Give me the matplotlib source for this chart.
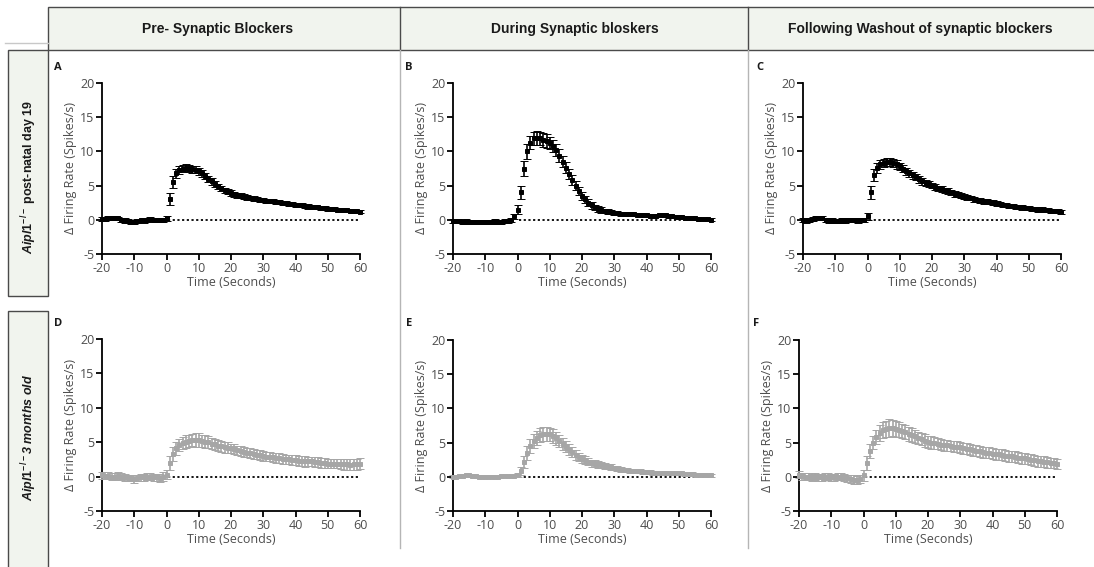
import numpy as np
import matplotlib
matplotlib.use("Agg")
import matplotlib.pyplot as plt
from matplotlib.patches import Rectangle
from matplotlib.lines import Line2D

plt.rcParams['font.family'] = ['Open Sans', 'DejaVu Sans']
plt.rcParams['axes.unicode_minus'] = False
plt.rcParams['mathtext.fontset'] = 'custom'
plt.rcParams['mathtext.it'] = 'Liberation Sans:italic:bold'
plt.rcParams['mathtext.rm'] = 'Liberation Sans:bold'

W, H = 1094, 567

# time axis, one sample per second
time_s = list(range(-20, 61))

col_titles = ["Pre- Synaptic Blockers", "During Synaptic bloskers",
              "Following Washout of synaptic blockers"]
panel_letters = ["A", "B", "C", "D", "E", "F"]

# row 1 : Aipl1-/- post-natal day 19 (black)
rate_A = [0.1, 0.1, 0.2, 0.3, 0.3, 0.2, 0.0, -0.1, -0.2, -0.3, -0.3, -0.2, -0.1, -0.1, 0.0, 0.1, 0.0, -0.1, -0.1, 0.0,
          0.2, 3.0, 5.5, 6.8, 7.3, 7.5, 7.6, 7.5, 7.4, 7.3, 7.1, 6.8, 6.4, 6.0, 5.6, 5.2, 4.9, 4.6, 4.3, 4.1,
          3.9, 3.75, 3.6, 3.5, 3.4, 3.3, 3.2, 3.1, 3.0, 2.95, 2.9, 2.8, 2.75, 2.7, 2.6, 2.55, 2.5, 2.4, 2.35, 2.3,
          2.2, 2.15, 2.1, 2.0, 1.95, 1.9, 1.85, 1.8, 1.75, 1.7, 1.6, 1.6, 1.55, 1.5, 1.45, 1.4, 1.4, 1.35, 1.3, 1.25,
          1.2]
err_A = [0.25, 0.25, 0.3, 0.3, 0.25, 0.25, 0.25, 0.3, 0.25, 0.25, 0.3, 0.25, 0.25, 0.3, 0.25, 0.25, 0.3, 0.25, 0.25, 0.3,
         0.4, 0.9, 0.9, 0.7, 0.6, 0.5, 0.5, 0.5, 0.5, 0.5, 0.5, 0.5, 0.45, 0.45, 0.45, 0.4, 0.4, 0.4, 0.4, 0.4,
         0.4, 0.35, 0.35, 0.35, 0.35, 0.35, 0.35, 0.35, 0.3, 0.3, 0.3, 0.3, 0.3, 0.3, 0.3, 0.3, 0.3, 0.3, 0.3, 0.3,
         0.3, 0.3, 0.3, 0.3, 0.3, 0.3, 0.3, 0.25, 0.25, 0.25, 0.25, 0.25, 0.25, 0.25, 0.25, 0.25, 0.25, 0.25, 0.25, 0.25,
         0.25]

rate_B = [-0.2, -0.2, -0.2, -0.3, -0.2, -0.3, -0.3, -0.3, -0.3, -0.3, -0.3, -0.3, -0.3, -0.2, -0.3, -0.3, -0.2, -0.2, 0.0, 0.5,
          1.5, 4.0, 7.5, 10.0, 11.3, 11.9, 12.0, 11.9, 11.7, 11.5, 11.2, 10.8, 10.2, 9.4, 8.5, 7.6, 6.7, 5.8, 5.0, 4.2,
          3.5, 3.0, 2.5, 2.1, 1.8, 1.6, 1.4, 1.3, 1.2, 1.1, 1.0, 0.95, 0.9, 0.85, 0.8, 0.8, 0.8, 0.75, 0.7, 0.7,
          0.65, 0.6, 0.6, 0.6, 0.65, 0.7, 0.65, 0.55, 0.5, 0.45, 0.4, 0.35, 0.3, 0.3, 0.25, 0.2, 0.15, 0.1, 0.1, 0.05,
          0.0]
err_B = [0.25, 0.25, 0.25, 0.25, 0.25, 0.25, 0.25, 0.25, 0.25, 0.25, 0.25, 0.25, 0.25, 0.25, 0.25, 0.25, 0.25, 0.25, 0.3, 0.4,
         0.6, 1.0, 1.1, 1.1, 1.0, 1.0, 1.0, 1.0, 1.0, 1.0, 0.9, 0.9, 0.9, 0.9, 0.8, 0.8, 0.8, 0.7, 0.7, 0.6,
         0.6, 0.5, 0.5, 0.5, 0.4, 0.4, 0.4, 0.35, 0.35, 0.3, 0.3, 0.3, 0.3, 0.3, 0.3, 0.3, 0.25, 0.25, 0.25, 0.25,
         0.25, 0.25, 0.25, 0.25, 0.25, 0.25, 0.25, 0.25, 0.25, 0.25, 0.2, 0.2, 0.2, 0.2, 0.2, 0.2, 0.2, 0.2, 0.2, 0.2,
         0.2]

rate_C = [0.0, -0.1, 0.0, 0.1, 0.2, 0.3, 0.2, 0.0, -0.1, -0.1, -0.2, -0.2, -0.1, -0.1, 0.0, 0.0, 0.0, -0.1, 0.0, 0.0,
          0.5, 4.0, 6.5, 7.6, 8.1, 8.3, 8.4, 8.4, 8.3, 8.1, 7.8, 7.5, 7.1, 6.8, 6.5, 6.2, 5.9, 5.6, 5.4, 5.2,
          5.0, 4.8, 4.6, 4.5, 4.3, 4.2, 4.0, 3.8, 3.7, 3.5, 3.4, 3.3, 3.2, 3.0, 2.9, 2.8, 2.7, 2.7, 2.6, 2.5,
          2.4, 2.3, 2.2, 2.1, 2.0, 2.0, 1.9, 1.9, 1.8, 1.7, 1.7, 1.6, 1.6, 1.5, 1.5, 1.4, 1.4, 1.3, 1.3, 1.3,
          1.2]
err_C = [0.3, 0.3, 0.3, 0.3, 0.3, 0.3, 0.3, 0.3, 0.3, 0.3, 0.3, 0.3, 0.3, 0.3, 0.3, 0.3, 0.3, 0.3, 0.3, 0.3,
         0.5, 1.0, 0.9, 0.7, 0.6, 0.6, 0.6, 0.6, 0.6, 0.6, 0.55, 0.55, 0.5, 0.5, 0.5, 0.45, 0.45, 0.45, 0.45, 0.4,
         0.4, 0.4, 0.4, 0.4, 0.4, 0.4, 0.4, 0.4, 0.35, 0.35, 0.35, 0.35, 0.35, 0.35, 0.35, 0.35, 0.35, 0.35, 0.35, 0.35,
         0.35, 0.3, 0.3, 0.3, 0.3, 0.3, 0.3, 0.3, 0.3, 0.3, 0.3, 0.3, 0.3, 0.3, 0.3, 0.3, 0.3, 0.3, 0.3, 0.3,
         0.3]

# row 2 : Aipl1-/- 3 months old (grey)
rate_D = [0.2, 0.1, 0.1, 0.0, 0.0, 0.1, 0.0, -0.1, -0.2, -0.2, -0.3, -0.2, -0.1, -0.1, 0.0, 0.0, -0.1, -0.1, -0.2, 0.0,
          0.3, 2.0, 3.3, 4.1, 4.6, 4.9, 5.1, 5.2, 5.3, 5.3, 5.3, 5.2, 5.1, 5.0, 4.8, 4.7, 4.5, 4.4, 4.3, 4.2,
          4.1, 4.0, 3.8, 3.7, 3.6, 3.5, 3.4, 3.3, 3.2, 3.1, 3.0, 2.9, 2.9, 2.8, 2.7, 2.7, 2.6, 2.5, 2.5, 2.4,
          2.4, 2.3, 2.3, 2.2, 2.2, 2.2, 2.1, 2.1, 2.0, 2.0, 1.9, 1.9, 1.9, 1.9, 1.8, 1.8, 1.8, 1.7, 1.8, 1.8,
          1.9]
err_D = [0.5, 0.5, 0.5, 0.5, 0.5, 0.5, 0.5, 0.5, 0.5, 0.5, 0.6, 0.5, 0.5, 0.5, 0.5, 0.5, 0.5, 0.5, 0.6, 0.6,
         0.7, 1.0, 1.0, 0.9, 0.9, 0.9, 0.9, 0.9, 0.9, 1.0, 1.0, 0.9, 0.9, 0.9, 0.8, 0.8, 0.8, 0.8, 0.8, 0.8,
         0.7, 0.7, 0.7, 0.7, 0.7, 0.7, 0.7, 0.7, 0.7, 0.7, 0.7, 0.7, 0.7, 0.7, 0.7, 0.7, 0.7, 0.7, 0.7, 0.7,
         0.7, 0.7, 0.7, 0.8, 0.7, 0.7, 0.7, 0.7, 0.7, 0.7, 0.7, 0.7, 0.7, 0.7, 0.7, 0.8, 0.8, 0.8, 0.8, 0.8,
         0.8]

rate_E = [0.0, 0.0, 0.1, 0.1, 0.2, 0.2, 0.1, 0.1, 0.0, 0.0, 0.0, 0.0, 0.0, 0.0, 0.0, 0.1, 0.1, 0.1, 0.1, 0.1,
          0.2, 0.8, 2.2, 3.5, 4.5, 5.2, 5.7, 6.1, 6.3, 6.3, 6.2, 6.0, 5.6, 5.2, 4.8, 4.4, 4.0, 3.6, 3.2, 2.9,
          2.6, 2.4, 2.2, 2.0, 1.9, 1.8, 1.7, 1.6, 1.5, 1.4, 1.3, 1.2, 1.1, 1.0, 1.0, 0.9, 0.9, 0.8, 0.8, 0.7,
          0.7, 0.7, 0.6, 0.6, 0.6, 0.6, 0.5, 0.5, 0.5, 0.5, 0.5, 0.5, 0.4, 0.4, 0.4, 0.3, 0.3, 0.3, 0.2, 0.2,
          0.2]
err_E = [0.2, 0.2, 0.2, 0.2, 0.2, 0.2, 0.2, 0.2, 0.2, 0.2, 0.2, 0.2, 0.2, 0.2, 0.2, 0.2, 0.2, 0.2, 0.2, 0.2,
         0.3, 0.6, 0.9, 1.0, 1.0, 1.0, 1.0, 1.0, 1.0, 1.0, 1.0, 1.0, 0.9, 0.9, 0.9, 0.8, 0.8, 0.7, 0.7, 0.6,
         0.6, 0.6, 0.5, 0.5, 0.5, 0.5, 0.4, 0.4, 0.4, 0.4, 0.35, 0.35, 0.35, 0.3, 0.3, 0.3, 0.3, 0.3, 0.3, 0.3,
         0.3, 0.3, 0.3, 0.25, 0.25, 0.25, 0.25, 0.25, 0.25, 0.25, 0.25, 0.25, 0.25, 0.25, 0.25, 0.25, 0.25, 0.25, 0.25, 0.25,
         0.25]

rate_F = [0.3, 0.1, 0.0, 0.0, -0.1, 0.0, -0.1, -0.1, 0.0, 0.0, -0.1, -0.1, 0.0, 0.0, -0.1, -0.2, -0.3, -0.4, -0.5, -0.3,
          0.2, 2.0, 3.8, 5.0, 5.8, 6.4, 6.8, 7.0, 7.1, 7.1, 7.0, 6.9, 6.7, 6.5, 6.3, 6.1, 5.9, 5.7, 5.5, 5.3,
          5.1, 5.0, 4.9, 4.8, 4.7, 4.6, 4.6, 4.5, 4.4, 4.4, 4.3, 4.2, 4.1, 4.0, 3.9, 3.8, 3.7, 3.6, 3.5, 3.5,
          3.4, 3.3, 3.3, 3.2, 3.1, 3.0, 3.0, 2.9, 2.8, 2.7, 2.7, 2.6, 2.5, 2.4, 2.3, 2.3, 2.2, 2.1, 2.0, 2.0,
          1.9]
err_F = [0.5, 0.5, 0.5, 0.5, 0.5, 0.5, 0.5, 0.5, 0.5, 0.5, 0.5, 0.5, 0.5, 0.5, 0.5, 0.5, 0.6, 0.6, 0.6, 0.6,
         0.8, 1.0, 1.0, 1.0, 1.0, 1.1, 1.2, 1.2, 1.3, 1.2, 1.2, 1.1, 1.0, 1.0, 1.0, 1.0, 0.9, 0.9, 0.9, 0.9,
         0.9, 0.9, 0.9, 0.8, 0.8, 0.8, 0.8, 0.8, 0.8, 0.8, 0.8, 0.8, 0.8, 0.8, 0.8, 0.8, 0.8, 0.8, 0.8, 0.8,
         0.8, 0.8, 0.8, 0.8, 0.8, 0.8, 0.8, 0.8, 0.8, 0.8, 0.8, 0.8, 0.8, 0.8, 0.8, 0.8, 0.8, 0.8, 0.7, 0.7,
         0.7]

rates = [rate_A, rate_B, rate_C, rate_D, rate_E, rate_F]
errs = [err_A, err_B, err_C, err_D, err_E, err_F]
colors = ["black"] * 3 + ["#a6a6a6"] * 3


def fx(px):
    return px / W


def fy(py):
    return 1 - py / H


fig = plt.figure(figsize=(W / 100, H / 100), dpi=100)
fig.patch.set_facecolor("white")

box_fc = "#f1f4ee"
box_ec = "#4a4a4a"
narrow = ['Liberation Sans', 'DejaVu Sans']

# header strip
fig.add_artist(Rectangle((fx(48), fy(50)), fx(1094) - fx(48) + 0.01, fy(7) - fy(50),
                         transform=fig.transFigure, fc=box_fc, ec=box_ec, lw=1.0))
for xd in [400, 748]:
    fig.add_artist(Line2D([fx(xd), fx(xd)], [fy(50), fy(7)], transform=fig.transFigure,
                          color=box_ec, lw=1.0))
    fig.add_artist(Line2D([fx(xd), fx(xd)], [fy(548), fy(50)], transform=fig.transFigure,
                          color="#b5b5b5", lw=1.0))
fig.add_artist(Line2D([fx(5), fx(48)], [fy(43), fy(43)], transform=fig.transFigure,
                      color="#c8c8c8", lw=1.0))

centers = [218, 575, 920]
for cx, title in zip(centers, col_titles):
    fig.text(fx(cx), fy(29), title, ha="center", va="center", fontsize=10,
             fontweight="bold", family=narrow, color="#1a1a1a")

# row label boxes
fig.add_artist(Rectangle((fx(8), fy(296)), fx(40), fy(50) - fy(296),
                         transform=fig.transFigure, fc=box_fc, ec=box_ec, lw=1.0))
fig.add_artist(Rectangle((fx(8), fy(575)), fx(40), fy(311) - fy(575),
                         transform=fig.transFigure, fc=box_fc, ec=box_ec, lw=1.0))
fig.text(fx(29), fy(177), r"$\mathit{Aipl1}^{-/-}$ post-natal day 19", rotation=90,
         ha="center", va="center", fontsize=9, fontweight="bold", family=narrow, color="#1a1a1a")
fig.text(fx(29), fy(437), r"$\mathit{Aipl1}^{-/-}$3 months old", rotation=90,
         ha="center", va="center", fontsize=9, fontweight="bold", style="italic",
         family=narrow, color="#1a1a1a")

# axes positions in pixels: left, right, top, bottom
ax_px = [(102, 360, 83, 254), (453, 711, 83, 254), (803, 1061, 83, 254),
         (102, 360, 339, 511), (453, 711, 340, 511), (799, 1057, 340, 511)]
letter_px = [(58, 67), (409, 67), (760, 67), (58, 323), (409, 323), (756, 323)]

label_col = "#4d4d4d"
for i in range(6):
    l, r, t, b = ax_px[i]
    ax = fig.add_axes([fx(l), fy(b), fx(r) - fx(l), fy(t) - fy(b)])
    ax.errorbar(time_s, rates[i], yerr=errs[i], fmt="s", ms=2.4, color=colors[i],
                ecolor=colors[i], elinewidth=1.2, capsize=2.6, capthick=1.1,
                mew=0.7, clip_on=False, zorder=3)
    ax.plot([0.5, 60], [0, 0], color="black", ls=(0, (1.2, 1.4)), lw=1.3, zorder=2)
    ax.set_xlim(-20, 60)
    ax.set_ylim(-5, 20)
    ax.set_xticks([-20, -10, 0, 10, 20, 30, 40, 50, 60])
    ax.set_yticks([-5, 0, 5, 10, 15, 20])
    for s in ["top", "right"]:
        ax.spines[s].set_visible(False)
    for s in ["left", "bottom"]:
        ax.spines[s].set_linewidth(1.3)
    ax.tick_params(direction="out", length=4, width=1.3, labelsize=9,
                   labelcolor=label_col, pad=1.5)
    ax.set_xlabel("Time (Seconds)", fontsize=9, color=label_col, labelpad=1)
    ax.set_ylabel("Δ Firing Rate (Spikes/s)", fontsize=9, color=label_col, labelpad=2)
    ax.patch.set_alpha(0)
    lx, ly = letter_px[i]
    fig.text(fx(lx), fy(ly), panel_letters[i], ha="center", va="center",
             fontsize=8, fontweight="bold", color="#1a1a1a")

fig.savefig("out.png", dpi=100)
